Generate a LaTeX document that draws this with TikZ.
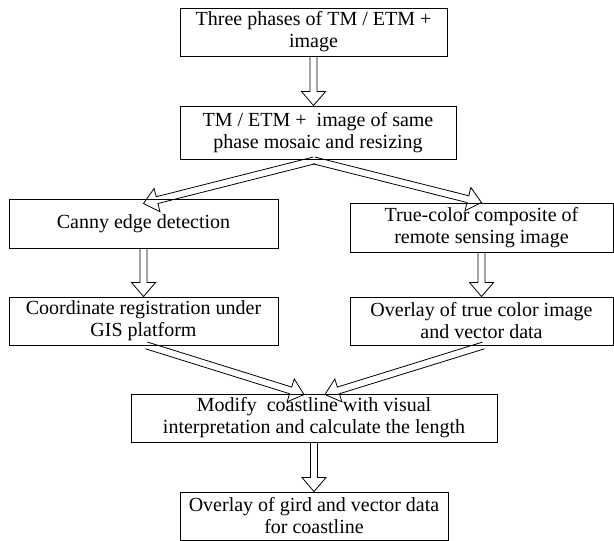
\documentclass[tikz,border=0pt]{standalone}
\usepackage{fontspec}
\setmainfont{Liberation Serif}
\usetikzlibrary{calc}
\tikzset{
  box/.style={draw=black, line width=0.9pt, rectangle, align=center, inner sep=0pt,
    font=\fontsize{20}{22}\selectfont},
  arr/.style={draw=black, line width=0.8pt, line join=miter}
}
\newcommand{\harrow}[2]{%
  \coordinate (hA) at #1;
  \coordinate (hB) at #2;
  \coordinate (hH) at ($(hB)!14pt!(hA)$);
  \draw[arr] ($(hA)!3.5pt!90:(hB)$) -- ($(hH)!3.5pt!90:(hB)$) -- ($(hH)!12pt!90:(hB)$) -- (hB)
    -- ($(hH)!12pt!-90:(hB)$) -- ($(hH)!3.5pt!-90:(hB)$) -- ($(hA)!3.5pt!-90:(hB)$);
}
\begin{document}
\begin{tikzpicture}[x=1pt, y=-1pt]
\useasboundingbox (0,0) rectangle (614,541);
\node[box, minimum width=267pt, minimum height=48pt] (b1) at (313.5,32) {Three phases of TM / ETM +\\image};
\node[box, minimum width=276pt, minimum height=53pt] (b2) at (318,132.5) {TM / ETM +\ \ image of same\\phase mosaic and resizing};
\node[box, minimum width=269pt, minimum height=49pt] (b3) at (143.5,223.5) {Canny edge detection};
\node[box, minimum width=263pt, minimum height=49pt] (b4) at (481.5,227.5) {True-color composite of\\remote sensing image};
\node[box, minimum width=269pt, minimum height=48pt] (b5) at (143.5,321) {Coordinate registration under\\GIS platform};
\node[box, minimum width=263pt, minimum height=48pt] (b6) at (481.5,321) {Overlay of true color image\\and vector data};
\node[box, minimum width=366pt, minimum height=48pt] (b7) at (314,418) {Modify\ \ coastline with visual\\interpretation and calculate the length};
\node[box, minimum width=268pt, minimum height=48pt] (b8) at (314,516) {Overlay of gird and vector data\\for coastline};

\harrow{(b1.south)}{(b1.south |- b2.north)}
\harrow{($(b2.south)+(-4,1)$)}{($(b3.north)+(0,5)$)}
\harrow{($(b2.south)+(-4,1)$)}{(b4.north)}
\harrow{(b3.south)}{(b3.south |- b5.north)}
\harrow{(b4.south)}{(b6.north)}
\harrow{($(b5.south)+(3,0)$)}{($(b7.north)+(-10,1)$)}
\harrow{($(b6.south)+(2,0)$)}{($(b7.north)+(11,1)$)}
\harrow{(b7.south)}{(b8.north)}
\end{tikzpicture}
\end{document}
